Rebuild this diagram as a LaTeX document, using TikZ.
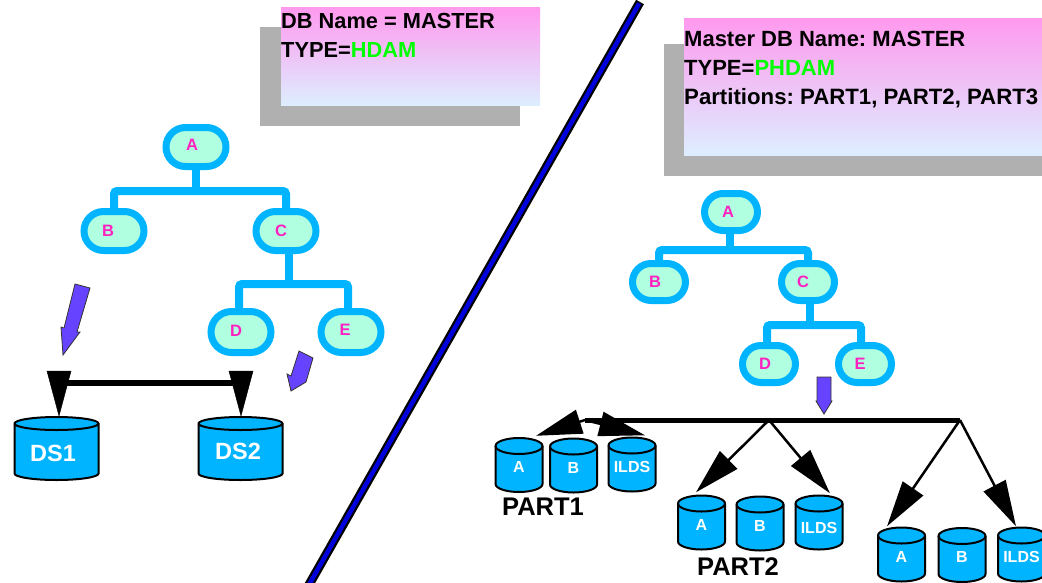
\documentclass[tikz,border=0pt]{standalone}
\usepackage{fontspec}
\setmainfont{Liberation Sans}
\usepackage{xcolor}
\definecolor{treeblue}{RGB}{0,180,255}
\definecolor{treefill}{RGB}{176,255,224}
\definecolor{treetext}{RGB}{255,32,192}
\definecolor{boxtop}{RGB}{255,153,238}
\definecolor{boxbottom}{RGB}{221,238,255}
\definecolor{shadowgrey}{RGB}{176,176,176}
\definecolor{typegreen}{RGB}{0,255,0}
\definecolor{pointerblue}{RGB}{102,68,255}
\definecolor{slashblue}{RGB}{0,0,221}
\usetikzlibrary{arrows.meta,shapes.misc}
\frenchspacing
\tikzset{
  treenode/.style={rounded rectangle,draw=treeblue,fill=treefill,line width=7pt,minimum width=#1,minimum height=37pt,inner sep=0pt},
  treenode/.default=53pt,
  treelabel/.style={text=treetext,font=\bfseries\fontsize{16.5}{16.5}\selectfont,inner sep=0pt},
  treeline/.style={treeblue,line width=8pt,rounded corners=3pt},
  infotext/.style={anchor=base west,inner sep=0pt,font=\bfseries\fontsize{#1}{#1}\selectfont},
  infotext/.default=21.8,
  diskline/.style={draw=black,fill=treeblue,line width=2pt},
  bigdisk/.style={minimum width=85pt,minimum height=63pt,inner sep=0pt},
  bigtext/.style={text=white,inner sep=0pt,font=\bfseries\fontsize{23.5}{23.5}\selectfont},
  smalldisk/.style={minimum width=48pt,minimum height=54pt,inner sep=0pt,text=white,font=\bfseries\fontsize{16}{16}\selectfont},
  partlabel/.style={inner sep=0pt,font=\bfseries\fontsize{25.5}{25.5}\selectfont},
  bighead/.style={-{Triangle[length=46pt,width=24.5pt]}},
  thinarrow/.style={bighead,line width=2.5pt},
  pointer/.style={fill=pointerblue,draw=black!80,line width=0.8pt},
}
% Disk outline, half width #3, half height #4, cap radius #5
\newcommand{\diskbody}[5]{
  \draw[diskline] (#1-#3,#2-#4) -- (#1-#3,#2+#4) arc[start angle=180,end angle=0,x radius=#3,y radius=#5] -- (#1+#3,#2-#4) arc[start angle=0,end angle=-180,x radius=#3,y radius=#5] -- cycle;
  \draw[line width=2pt] (#1-#3,#2-#4) arc[start angle=180,end angle=0,x radius=#3,y radius=#5];
}
% Small disk with label: name, x, y, text
\newcommand{\partdisk}[4]{
  \diskbody{#2}{#3}{23.5}{19}{8}
  \node[smalldisk] (#1) at (#2,#3) {\rule{0pt}{15.5pt}#4};
}
\begin{document}
\begin{tikzpicture}[x=1pt,y=-1pt]
        \useasboundingbox (0,0) rectangle (1042,582);
        % Info boxes
        \fill[shadowgrey] (260,27) rectangle (520,126);
        \shade[top color=boxtop,bottom color=boxbottom] (281,7) rectangle (540,105);
        \fill[shadowgrey] (664,44) rectangle (1042,176);
        \shade[top color=boxtop,bottom color=boxbottom] (684,18) rectangle (1042,155);
        \node[infotext] (leftname) at (281,28) {DB Name = MASTER};
        \node[infotext] (lefttype) at (281,57) {TYPE=\textcolor{typegreen}{HDAM}};
        \node[infotext=22] (rightname) at (684,46) {Master DB Name: MASTER};
        \node[infotext=22] (righttype) at (684,75) {TYPE=\textcolor{typegreen}{PHDAM}};
        \node[infotext=22.2] (rightparts) at (684,104) {Partitions: PART1, PART2, PART3};
        % Divider
        \draw[line width=9pt,black] (640,2) -- (306,590);
        \draw[line width=4.5pt,slashblue] (639.2,3.4) -- (306,590);
        % Left tree
        \node[treenode=60pt,minimum height=39pt] (lA) at (196,147) {};
        \node[treenode=60pt,minimum height=39pt] (lB) at (114,231) {};
        \node[treenode=60pt,minimum height=39pt] (lC) at (286,231) {};
        \node[treenode=60pt,minimum height=41pt] (lD) at (241,332) {};
        \node[treenode=60pt,minimum height=41pt] (lE) at (351,332) {};
        \coordinate (lbustop) at (196,191);
        \coordinate (lbuslow) at (289,284);
        \draw[treeline] (lA.south) -- (lA |- lbustop);
        \draw[treeline] (lB.north) -- (lB |- lbustop) -- (lC |- lbustop) -- (lC.north);
        \draw[treeline] ([xshift=3pt]lC.south) -- (lbuslow);
        \draw[treeline] ([xshift=-2pt]lD.north) -- ([xshift=-2pt]lD.north |- lbuslow) -- ([xshift=-3pt]lE.north |- lbuslow) -- ([xshift=-3pt]lE.north);
        \node[treelabel] (lAtext) at (192,145) {A};
        \node[treelabel] (lBtext) at (108,231) {B};
        \node[treelabel] (lCtext) at (281,231) {C};
        \node[treelabel] (lDtext) at (236,331) {D};
        \node[treelabel] (lEtext) at (345,330) {E};
        % Right tree
        \node[treenode] (rA) at (731,212) {};
        \node[treenode] (rB) at (659,282) {};
        \node[treenode] (rC) at (808,282) {};
        \node[treenode] (rD) at (769,364) {};
        \node[treenode] (rE) at (865,364) {};
        \coordinate (rbustop) at (730,250);
        \coordinate (rbuslow) at (810,325);
        \draw[treeline] ([xshift=-1pt]rA.south) -- (rbustop);
        \draw[treeline] (rB.north) -- (rB |- rbustop) -- (rC |- rbustop) -- (rC.north);
        \draw[treeline] ([xshift=2pt]rC.south) -- (rbuslow);
        \draw[treeline] ([xshift=-2pt]rD.north) -- ([xshift=-2pt]rD.north |- rbuslow) -- ([xshift=-4pt]rE.north |- rbuslow) -- ([xshift=-4pt]rE.north);
        \node[treelabel] (rAtext) at (728,212) {A};
        \node[treelabel] (rBtext) at (655,282) {B};
        \node[treelabel] (rCtext) at (803,282) {C};
        \node[treelabel] (rDtext) at (765,364) {D};
        \node[treelabel] (rEtext) at (860,364) {E};
        % Pointers
        \draw[pointer] (75,284) -- (90,288) -- (77,332) -- (80,332) -- (63,355) -- (61,327) -- (64,328) -- cycle;
        \draw[pointer] (299,351) -- (313,358) -- (306,382) -- (291,391) -- (287,374) -- (291,376) -- cycle;
        \draw[pointer] (817,377) -- (831,377) -- (831,401) -- (832,401) -- (824,414) -- (816,401) -- (817,401) -- cycle;
        % Left disks
        \diskbody{56.5}{448.5}{42}{25}{6.5}
        \diskbody{240.5}{448.5}{42}{25}{6.5}
        \node[bigdisk] (DS1) at (56.5,448.5) {};
        \node[bigdisk] (DS2) at (240.5,448.5) {};
        \node[bigtext] (DS1text) at (53,453) {DS1};
        \node[bigtext] (DS2text) at (238,451) {DS2};
        \coordinate (dsleft) at (59,371);
        \coordinate (dsright) at (241,371);
        \coordinate (dsbus) at (59,383);
        \draw[line width=6.5pt] (dsbus) -- (dsbus -| dsright);
        \draw[bighead] (dsleft) -- (dsleft |- DS1.north);
        \draw[bighead] (dsright) -- (dsright |- DS2.north);
        % Partition disks
        \partdisk{A1}{519}{465}{A}
        \partdisk{B1}{573.5}{465.5}{B}
        \partdisk{I1}{632}{464.5}{ILDS}
        \partdisk{A2}{701.5}{522.5}{A}
        \partdisk{B2}{760}{523.5}{B}
        \partdisk{I2}{819}{522.5}{\rule{0pt}{23pt}ILDS}
        \partdisk{A3}{901.5}{554.5}{A}
        \partdisk{B3}{962}{555}{B}
        \partdisk{I3}{1021.5}{554.5}{ILDS}
        \node[partlabel] (part1) at (543,507) {PART1};
        \node[partlabel] (part2) at (738,567) {PART2};
        % Bus and arrows
        \coordinate (busstart) at (585,420);
        \coordinate (busmid) at (769,420);
        \coordinate (busend) at (960,420);
        \draw[line width=5pt] (busstart) -- (busend);
        \draw[thinarrow] (busstart) -- ([shift={(17,-2)}]A1.north);
        \draw[thinarrow] (busstart) -- ([shift={(13,-2)}]I1.north);
        \draw[thinarrow] (busmid) -- ([shift={(-5.5,-3)}]A2.north);
        \draw[thinarrow] (busmid) -- ([shift={(11,-2)}]I2.north);
        \draw[thinarrow] (busend) -- ([shift={(-14.5,-1)}]A3.north);
        \draw[thinarrow] (busend) -- ([shift={(-5.5,-1)}]I3.north);
    \end{tikzpicture}
\end{document}
